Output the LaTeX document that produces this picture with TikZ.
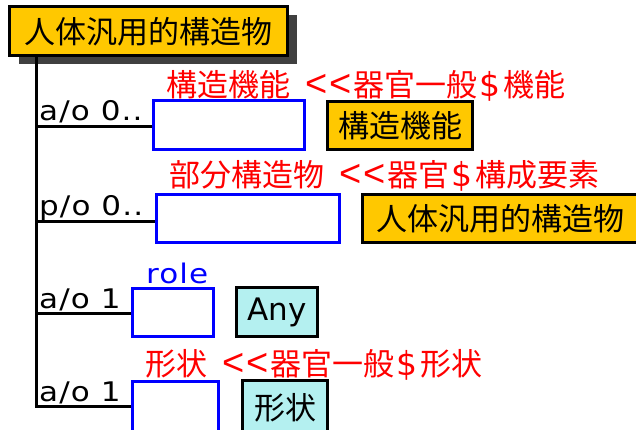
\documentclass[tikz,border=0pt]{standalone}
\usepackage{fontspec}
\setmainfont{DejaVu Sans}
\newfontfamily\cjk{Noto Sans CJK JP}
\newfontfamily\ltfont{Liberation Sans}
\newfontfamily\lblfont[FakeStretch=1.15,LetterSpace=4]{DejaVu Sans}
\usetikzlibrary{shadows}
\definecolor{boxorange}{RGB}{255,200,0}
\definecolor{boxcyan}{RGB}{180,240,240}
\definecolor{shadowgray}{RGB}{64,64,64}
\newcommand{\ltlt}{\hspace{14pt}{\ltfont\fontsize{38}{38}\selectfont\makebox[24.5pt]{<}\makebox[24.5pt]{<}}}
\newcommand{\dollarsep}{\makebox[26pt]{\fontsize{33}{33}\selectfont\$}}
\tikzset{
  obox/.style={draw=black, line width=3pt, fill=boxorange, inner sep=0pt, font=\fontsize{31}{31}\selectfont\cjk},
  cbox/.style={draw=black, line width=3pt, fill=boxcyan, inner sep=0pt, font=\fontsize{31}{31}\selectfont},
  slot/.style={draw=blue, line width=3pt, fill=white, inner sep=0pt},
  lbl/.style={anchor=base west, inner sep=0pt, font=\lblfont\fontsize{27}{27}\selectfont},
  redlbl/.style={anchor=base west, inner sep=0pt, text=red, font=\fontsize{31}{31}\selectfont},
  link/.style={draw=black, line width=3pt},
}
\begin{document}
\begin{tikzpicture}[x=1pt,y=-1pt]
\useasboundingbox (0,0) rectangle (636,430);
\clip (0,0) rectangle (636,430);
% top node
\node[obox, general shadow={fill=shadowgray, shadow xshift=9pt, shadow yshift=-8pt}, minimum width=278pt, minimum height=49pt] (top) at (148.5,31.5) {人体汎用的構造物};
% spine
\coordinate (s0) at (36,57);
\coordinate (j1) at (36,127);
\coordinate (j2) at (36,221);
\coordinate (j3) at (36,313);
\coordinate (j4) at (36,406);
% slots
\node[slot, minimum width=151pt, minimum height=49pt] (b1) at (229,125) {};
\node[slot, minimum width=183pt, minimum height=48pt] (b2) at (248,218.5) {};
\node[slot, minimum width=81pt, minimum height=48pt] (b3) at (173,312.5) {};
\node[slot, minimum width=86pt, minimum height=54pt] (b4) at (175.5,408.5) {};
% connectors
\draw[link, line cap=rect] (s0) -- (j4);
\draw[link] (j1) -- (j1 -| b1.west);
\draw[link] (j2) -- (j2 -| b2.west);
\draw[link] (j3) -- (j3 -| b3.west);
\draw[link] (j4) -- (j4 -| b4.west);
% labels
\node[lbl] (l1) at (39,121) {a/o 0..};
\node[lbl] (l2) at (39,215) {p/o 0..};
\node[lbl] (l3) at (39,308) {a/o 1};
\node[lbl] (l4) at (39,401) {a/o 1};
\node[lbl, text=blue] (role) at (146,283) {role};
% red texts
\node[redlbl] (r1) at (166,97) {{\cjk 構造機能}\ltlt{\cjk 器官一般}\dollarsep{\cjk 機能}};
\node[redlbl] (r2) at (169,187) {{\cjk 部分構造物}\ltlt{\cjk 器官}\dollarsep{\cjk 構成要素}};
\node[redlbl] (r4) at (145,375) {{\cjk 形状}\ltlt{\cjk 器官一般}\dollarsep{\cjk 形状}};
% class boxes
\node[obox, minimum width=145pt, minimum height=48pt] (c1) at (400,125.5) {構造機能};
\node[obox, minimum width=276pt, minimum height=48pt] (c2) at (500.5,218.5) {人体汎用的構造物};
\node[cbox, minimum width=81pt, minimum height=49pt] (c3) at (277,312) {Any};
\node[cbox, minimum width=85pt, minimum height=55pt, font=\fontsize{31}{31}\selectfont\cjk] (c4) at (285,408) {形状};
\end{tikzpicture}
\end{document}
